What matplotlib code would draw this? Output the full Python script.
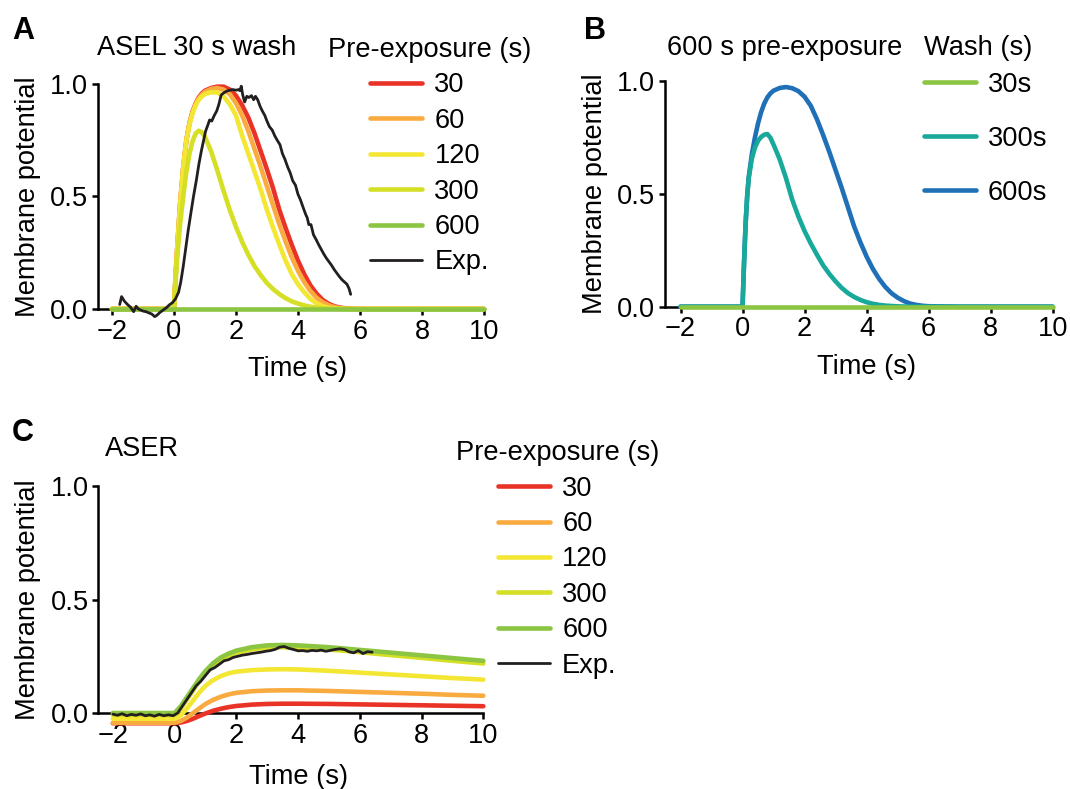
import numpy as np
import matplotlib
matplotlib.use("Agg")
import matplotlib.pyplot as plt

plt.rcParams["font.family"] = ["Liberation Sans", "DejaVu Sans"]
plt.rcParams["font.size"] = 19.6

# ---------------- data ----------------
# time grid for the model curves in panel A (s)
t_model = [-2, 0, 0.05, 0.1, 0.2, 0.3, 0.4, 0.5, 0.6, 0.7, 0.8, 0.9, 1.0, 1.2, 1.4,
           1.6, 1.8, 2.0, 2.2, 2.4, 2.6, 2.8, 3.0, 3.2, 3.4, 3.6, 3.8, 4.0, 4.2,
           4.4, 4.6, 4.8, 5.0, 5.2, 5.4, 5.6, 5.8, 6.0, 7, 8, 9, 10]

# panel A: ASEL, 30 s wash, by pre-exposure
aselA_30 = [0, 0, 0.14, 0.26, 0.47, 0.63, 0.75, 0.825, 0.878, 0.913, 0.94, 0.958, 0.97,
            0.982, 0.988, 0.988, 0.975, 0.948, 0.905, 0.85, 0.78, 0.70, 0.62, 0.535,
            0.44, 0.36, 0.285, 0.215, 0.155, 0.105, 0.068, 0.04, 0.022, 0.011, 0.005,
            0.002, 0.0005, 0, 0, 0, 0, 0]
aselA_60 = [0, 0, 0.14, 0.26, 0.47, 0.63, 0.75, 0.825, 0.875, 0.91, 0.935, 0.953, 0.965,
            0.978, 0.982, 0.975, 0.955, 0.915, 0.86, 0.79, 0.71, 0.63, 0.545, 0.46,
            0.375, 0.30, 0.23, 0.17, 0.12, 0.08, 0.05, 0.03, 0.016, 0.008, 0.003,
            0.001, 0, 0, 0, 0, 0, 0]
aselA_120 = [0, 0, 0.14, 0.26, 0.47, 0.63, 0.75, 0.82, 0.87, 0.905, 0.93, 0.945, 0.955,
             0.963, 0.962, 0.945, 0.91, 0.86, 0.77, 0.69, 0.61, 0.53, 0.44, 0.36,
             0.285, 0.215, 0.155, 0.11, 0.075, 0.045, 0.025, 0.012, 0.005, 0.002,
             0.0005, 0, 0, 0, 0, 0, 0, 0]
aselA_300 = [0, 0, 0.12, 0.22, 0.38, 0.50, 0.61, 0.69, 0.745, 0.78, 0.792, 0.785, 0.765,
             0.70, 0.615, 0.525, 0.44, 0.365, 0.298, 0.24, 0.19, 0.15, 0.115, 0.088,
             0.066, 0.048, 0.034, 0.024, 0.016, 0.01, 0.006, 0.004, 0.002, 0.001,
             0, 0, 0, 0, 0, 0, 0, 0]
aselA_600 = [0] * len(t_model)

# panel A: experimental ASEL trace
t_expA = [-1.75, -1.69, -1.6, -1.5, -1.4, -1.3, -1.22, -1.15, -1.07, -0.98, -0.9, -0.8,
          -0.72, -0.62, -0.55, -0.45, -0.35, -0.25, -0.15, -0.05, 0.05, 0.15, 0.22, 0.3,
          0.38, 0.46, 0.55, 0.63, 0.72, 0.8, 0.88, 0.95, 1.02, 1.1, 1.15, 1.22, 1.3,
          1.38, 1.45, 1.52, 1.6, 1.7, 1.8, 1.9, 2.0, 2.08, 2.13, 2.17, 2.22, 2.28, 2.35,
          2.42, 2.5, 2.57, 2.63, 2.7, 2.78, 2.85, 2.93, 3.0, 3.08, 3.17, 3.25, 3.33,
          3.42, 3.5, 3.58, 3.67, 3.75, 3.83, 3.92, 4.0, 4.08, 4.17, 4.25, 4.3, 4.35,
          4.42, 4.5, 4.58, 4.67, 4.75, 4.83, 4.92, 5.0, 5.08, 5.17, 5.25, 5.33, 5.42,
          5.5, 5.58, 5.65, 5.7]
v_expA = [0.02, 0.055, 0.035, 0.02, 0.008, -0.012, 0.012, 0.0, -0.005, -0.01, -0.012,
          -0.018, -0.022, -0.034, -0.028, -0.015, -0.005, 0.005, 0.018, 0.028, 0.045,
          0.075, 0.12, 0.19, 0.27, 0.35, 0.43, 0.50, 0.57, 0.64, 0.70, 0.745, 0.79,
          0.82, 0.84, 0.835, 0.86, 0.88, 0.91, 0.95, 0.96, 0.968, 0.972, 0.975, 0.972,
          0.975, 0.97, 0.99, 0.95, 0.92, 0.945, 0.94, 0.948, 0.93, 0.945, 0.93, 0.90,
          0.88, 0.86, 0.835, 0.81, 0.795, 0.77, 0.75, 0.73, 0.69, 0.665, 0.63, 0.605,
          0.57, 0.55, 0.51, 0.485, 0.45, 0.42, 0.405, 0.375, 0.375, 0.33, 0.31, 0.285,
          0.265, 0.245, 0.225, 0.21, 0.195, 0.175, 0.16, 0.145, 0.13, 0.12, 0.11, 0.09,
          0.065]

# panel B: 600 s pre-exposure, by wash duration
t_wash = [-2, 0, 0.05, 0.1, 0.15, 0.2, 0.3, 0.4, 0.5, 0.6, 0.7, 0.8, 0.9, 1.0, 1.2, 1.4,
          1.6, 1.8, 2.0, 2.2, 2.4, 2.6, 2.8, 3.0, 3.2, 3.4, 3.6, 3.8, 4.0, 4.2, 4.4,
          4.6, 4.8, 5.0, 5.2, 5.4, 5.6, 5.8, 6.0, 7, 8, 9, 10]
wash_30 = [0] * len(t_wash)
wash_300 = [0, 0, 0.2, 0.37, 0.49, 0.57, 0.655, 0.705, 0.735, 0.752, 0.762, 0.765, 0.748,
            0.718, 0.652, 0.57, 0.475, 0.40, 0.335, 0.28, 0.23, 0.183, 0.145, 0.112,
            0.083, 0.06, 0.043, 0.03, 0.02, 0.013, 0.008, 0.005, 0.003, 0.0015, 0.0008,
            0, 0, 0, 0, 0, 0, 0, 0]
wash_600 = [0, 0, 0.2, 0.37, 0.49, 0.575, 0.675, 0.75, 0.812, 0.862, 0.9, 0.927, 0.945,
            0.957, 0.969, 0.973, 0.968, 0.955, 0.93, 0.89, 0.83, 0.76, 0.685, 0.605,
            0.525, 0.44, 0.355, 0.285, 0.222, 0.168, 0.124, 0.088, 0.06, 0.04, 0.025,
            0.014, 0.008, 0.004, 0.002, 0, 0, 0, 0]

# panel C: ASER, by pre-exposure
t_aser = [-2, 0, 0.2, 0.4, 0.6, 0.8, 1.0, 1.25, 1.5, 1.75, 2.0, 2.5, 3.0, 3.5, 4.0,
          5.0, 6.0, 7.0, 8.0, 9.0, 10.0]
aser_30 = [-0.045, -0.045, -0.042, -0.035, -0.025, -0.013, -0.002, 0.01, 0.019, 0.026,
           0.031, 0.037, 0.04, 0.041, 0.041, 0.04, 0.038, 0.036, 0.034, 0.032, 0.03]
aser_60 = [-0.043, -0.043, -0.035, -0.02, 0.0, 0.02, 0.04, 0.058, 0.072, 0.082, 0.089,
           0.096, 0.099, 0.1, 0.1, 0.097, 0.093, 0.089, 0.085, 0.08, 0.076]
aser_120 = [-0.025, -0.025, -0.01, 0.02, 0.055, 0.09, 0.12, 0.145, 0.163, 0.175, 0.182,
            0.189, 0.192, 0.193, 0.192, 0.186, 0.178, 0.17, 0.162, 0.154, 0.147]
aser_300 = [-0.008, -0.008, 0.02, 0.06, 0.10, 0.14, 0.175, 0.21, 0.235, 0.252, 0.265,
            0.28, 0.288, 0.29, 0.288, 0.28, 0.268, 0.255, 0.243, 0.23, 0.218]
aser_600 = [0.0, 0.0, 0.03, 0.07, 0.11, 0.15, 0.185, 0.22, 0.245, 0.262, 0.275, 0.29,
            0.298, 0.30, 0.298, 0.29, 0.278, 0.266, 0.254, 0.242, 0.23]

t_expC = [-2, -1.85, -1.7, -1.55, -1.4, -1.25, -1.1, -0.95, -0.8, -0.65, -0.5, -0.35,
          -0.2, -0.05, 0.1, 0.25, 0.4, 0.55, 0.7, 0.85, 1.0, 1.15, 1.3, 1.45, 1.6, 1.75,
          1.9, 2.05, 2.2, 2.35, 2.5, 2.65, 2.8, 2.95, 3.1, 3.25, 3.4, 3.55, 3.7, 3.85,
          4.0, 4.15, 4.3, 4.45, 4.6, 4.75, 4.9, 5.05, 5.2, 5.35, 5.5, 5.65, 5.8, 5.95,
          6.1, 6.25, 6.4]
v_expC = [-0.005, -0.01, -0.003, -0.012, -0.006, -0.01, -0.004, -0.012, -0.008, -0.014,
          -0.006, -0.012, -0.008, -0.012, 0.0, 0.03, 0.06, 0.09, 0.12, 0.14, 0.165, 0.19,
          0.2, 0.215, 0.23, 0.235, 0.245, 0.25, 0.255, 0.258, 0.262, 0.265, 0.268, 0.272,
          0.275, 0.28, 0.29, 0.293, 0.285, 0.28, 0.274, 0.275, 0.272, 0.276, 0.274, 0.277,
          0.272, 0.276, 0.28, 0.283, 0.28, 0.27, 0.265, 0.275, 0.262, 0.27, 0.268]

pre_labels = ["30", "60", "120", "300", "600", "Exp."]
wash_labels = ["30s", "300s", "600s"]

c_red, c_orange, c_yellow, c_lime, c_green = "#ea3327", "#f9ab40", "#f3e734", "#d5df26", "#8bc541"
c_teal, c_blue, c_black = "#18a99b", "#1f70b7", "#231f20"

# ---------------- figure ----------------
fig = plt.figure(figsize=(10.7, 7.89), dpi=100)
axA = fig.add_axes([0.0916, 0.6084, 0.3607, 0.2852])
axB = fig.add_axes([0.6215, 0.6113, 0.3623, 0.2861])
axC = fig.add_axes([0.0919, 0.0963, 0.3598, 0.2877])

LW = 3.3


def style(ax, xmin):
    ax.set_xlim(xmin, 10)
    ax.set_ylim(0, 1)
    for s in ["top", "right"]:
        ax.spines[s].set_visible(False)
    for s in ["left", "bottom"]:
        ax.spines[s].set_linewidth(1.8)
        ax.spines[s].set_color("black")
    ax.set_xticks([-2, 0, 2, 4, 6, 8, 10])
    ax.set_yticks([0, 0.5, 1.0])
    ax.set_yticklabels(["0.0", "0.5", "1.0"])
    ax.tick_params(direction="out", length=4, width=1.8, pad=3)
    ax.set_xlabel("Time (s)")
    ax.set_ylabel("Membrane potential")
    ax.yaxis.set_label_coords(-0.148, 0.5)
    ax.patch.set_visible(False)


def curve(ax, t, y, c, lw=LW):
    return ax.plot(t, y, color=c, lw=lw, clip_on=False, zorder=3,
                   solid_capstyle="round", solid_joinstyle="round")[0]


leg_kw = dict(loc="upper left", bbox_transform=fig.transFigure, frameon=False,
              handlelength=1.9, handletextpad=0.45, borderpad=0, borderaxespad=0)

# panel A
style(axA, -2.45)
axA.xaxis.set_label_coords((4 + 2.45) / 12.45, -0.21)
hA = []
for y, c in zip([aselA_30, aselA_60, aselA_120, aselA_300, aselA_600],
                [c_red, c_orange, c_yellow, c_lime, c_green]):
    hA.append(curve(axA, t_model, y, c))
hA.append(curve(axA, t_expA, v_expA, c_black, lw=2.0))
axA.legend(hA, pre_labels, title="Pre-exposure (s)", bbox_to_anchor=(0.3065, 0.953),
           labelspacing=0.345, title_fontsize=19.6, **leg_kw)

# panel B
style(axB, -2.5)
axB.xaxis.set_label_coords((4 + 2.5) / 12.5, -0.21)
hB = [None, None, None]
hB[2] = curve(axB, t_wash, wash_600, c_blue)
hB[1] = curve(axB, t_wash, wash_300, c_teal)
hB[0] = curve(axB, t_wash, wash_30, c_green)
axB.legend(hB, wash_labels, bbox_to_anchor=(0.8636, 0.909), labelspacing=1.03, **leg_kw)
fig.text(0.8636, 0.939, "Wash (s)", va="center", ha="left")

# panel C
style(axC, -2.47)
axC.xaxis.set_label_coords((4 + 2.47) / 12.47, -0.225)
hC = []
for y, c in zip([aser_30, aser_60, aser_120, aser_300, aser_600],
                [c_red, c_orange, c_yellow, c_lime, c_green]):
    hC.append(curve(axC, t_aser, y, c))
hC.append(curve(axC, t_expC, v_expC, c_black, lw=2.0))
axC.legend(hC, pre_labels, title="Pre-exposure (s)", bbox_to_anchor=(0.426, 0.442),
           labelspacing=0.345, title_fontsize=19.6, **leg_kw)

# titles and panel letters
fig.text(0.0907, 0.939, "ASEL 30 s wash", va="center", ha="left")
fig.text(0.6234, 0.939, "600 s pre-exposure", va="center", ha="left")
fig.text(0.098, 0.431, "ASER", va="center", ha="left")
fig.text(0.011, 0.961, "A", weight="bold", fontsize=22, va="center")
fig.text(0.546, 0.961, "B", weight="bold", fontsize=22, va="center")
fig.text(0.011, 0.451, "C", weight="bold", fontsize=22, va="center")

fig.savefig("out.png", dpi=100)
